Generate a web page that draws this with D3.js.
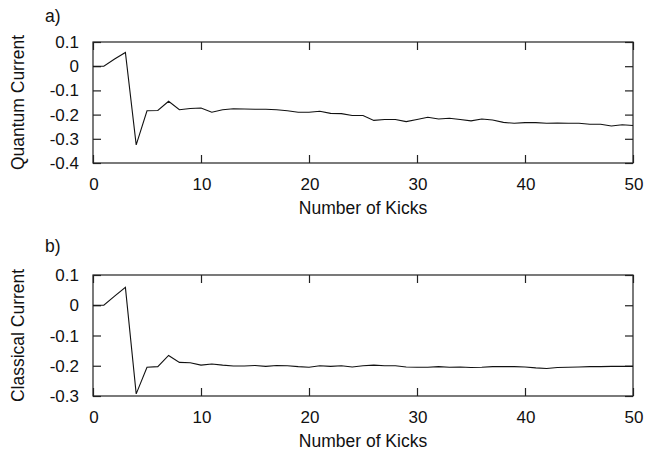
<!DOCTYPE html>
<html><head><meta charset="utf-8">
<script src="https://cdn.jsdelivr.net/npm/d3@7"></script>
<style>body{margin:0;background:#fff}svg{display:block}text{font-family:"Liberation Sans",Arial,sans-serif;fill:#111}</style>
</head><body>
<script>
const kicks = d3.range(0, 51);
const quantum = [0,0,0.03,0.057,-0.325,-0.184,-0.183,-0.145,-0.18,-0.175,-0.173,-0.19,-0.18,-0.176,-0.177,-0.178,-0.178,-0.18,-0.184,-0.19,-0.19,-0.186,-0.195,-0.196,-0.204,-0.204,-0.224,-0.22,-0.22,-0.229,-0.22,-0.211,-0.218,-0.215,-0.22,-0.226,-0.218,-0.222,-0.232,-0.236,-0.233,-0.233,-0.236,-0.235,-0.236,-0.236,-0.24,-0.24,-0.247,-0.242,-0.245];
const classical = [0,0,0.03,0.059,-0.293,-0.205,-0.203,-0.166,-0.189,-0.19,-0.198,-0.194,-0.198,-0.201,-0.201,-0.199,-0.202,-0.199,-0.2,-0.203,-0.205,-0.2,-0.202,-0.2,-0.204,-0.2,-0.198,-0.2,-0.2,-0.204,-0.205,-0.205,-0.203,-0.205,-0.204,-0.206,-0.205,-0.203,-0.203,-0.203,-0.204,-0.207,-0.209,-0.206,-0.205,-0.204,-0.203,-0.203,-0.202,-0.202,-0.202];
const xTicks = [0,10,20,30,40,50];
const qTicks = [0.1,0,-0.1,-0.2,-0.3,-0.4];
const cTicks = [0.1,0,-0.1,-0.2,-0.3];

const W = 662, H = 452;
const svg = d3.select("body").append("svg").attr("width", W).attr("height", H);

function fmt(v){ return v === 0 ? "0" : d3.format(".1f")(v).replace("\u2212","-"); }

function panel(cfg){
  const {top, bottom, values, yDomain, yTicks, ylabel, tag, tagY} = cfg;
  const left = 93, right = 633;
  const x = d3.scaleLinear().domain([0,50]).range([left,right]);
  const y = d3.scaleLinear().domain(yDomain).range([bottom,top]);
  const g = svg.append("g");
  const tl = 8;
  const axB = d3.axisBottom(x).tickValues(xTicks).tickSize(-tl).tickFormat("");
  const axT = d3.axisTop(x).tickValues(xTicks).tickSize(-tl).tickFormat("");
  const axL = d3.axisLeft(y).tickValues(yTicks).tickSize(-tl).tickFormat("");
  const axR = d3.axisRight(y).tickValues(yTicks).tickSize(-tl).tickFormat("");
  [[axB,`translate(0,${bottom})`],[axT,`translate(0,${top})`],[axL,`translate(${left},0)`],[axR,`translate(${right},0)`]].forEach(([a,t])=>{
    const s = g.append("g").attr("transform",t).call(a);
    s.select(".domain").remove();
    s.selectAll("line").attr("stroke","#222").attr("stroke-width",1.2);
  });
  g.append("rect").attr("x",left).attr("y",top).attr("width",right-left).attr("height",bottom-top)
    .attr("fill","none").attr("stroke","#222").attr("stroke-width",1.2);
  g.selectAll(".xl").data(xTicks).enter().append("text")
    .attr("x",d=>x(d)+1).attr("y",bottom+27).attr("text-anchor","middle").attr("font-size",17).text(d=>d);
  g.selectAll(".yl").data(yTicks).enter().append("text")
    .attr("x",left-14).attr("y",d=>y(d)+6).attr("text-anchor","end").attr("font-size",17).text(fmt);
  const line = d3.line().x((d,i)=>x(kicks[i])).y(d=>y(d));
  g.append("path").datum(values).attr("d",line).attr("fill","none").attr("stroke","#111").attr("stroke-width",1.1);
  g.append("text").attr("x",(left+right)/2).attr("y",bottom+51).attr("text-anchor","middle").attr("font-size",17.5).text("Number of Kicks");
  g.append("text").attr("transform",`translate(24,${(top+bottom)/2}) rotate(-90)`).attr("text-anchor","middle").attr("font-size",17.5).text(ylabel);
  g.append("text").attr("x",45).attr("y",tagY).attr("font-size",17.5).text(tag);
}

panel({top:42,bottom:163,values:quantum,yDomain:[-0.4,0.1],yTicks:qTicks,ylabel:"Quantum Current",tag:"a)",tagY:22});
panel({top:275,bottom:396,values:classical,yDomain:[-0.3,0.1],yTicks:cTicks,ylabel:"Classical Current",tag:"b)",tagY:252});
</script>
</body></html>
